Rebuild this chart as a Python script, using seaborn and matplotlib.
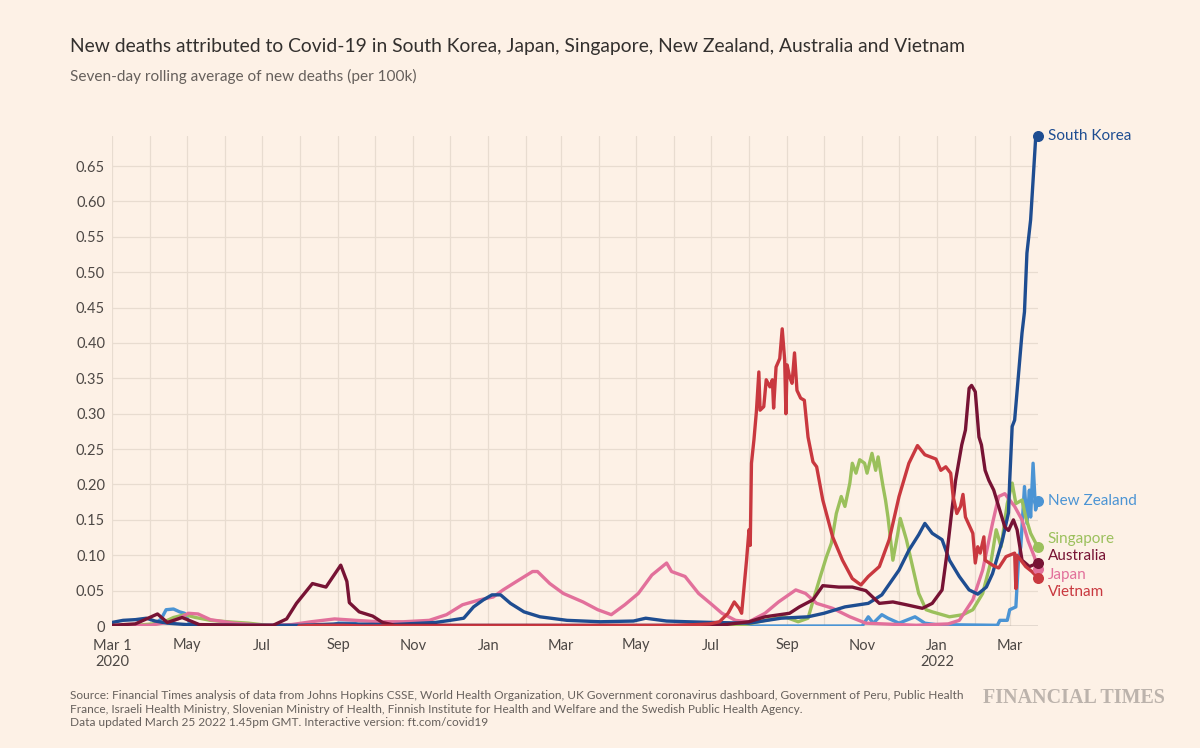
import pandas as pd
import numpy as np
import matplotlib
matplotlib.use("Agg")
import matplotlib.pyplot as plt
import matplotlib.dates as mdates
import matplotlib.ticker as mticker
import seaborn as sns

# Seven-day rolling average of new deaths per 100k

sk_dates = ["2020-03-01", "2020-03-10", "2020-03-20", "2020-03-29", "2020-04-05", "2020-04-15",
            "2020-05-01", "2020-06-15", "2020-08-01", "2020-09-01", "2020-10-15", "2020-11-19",
            "2020-12-01", "2020-12-12", "2020-12-20", "2020-12-28", "2021-01-04", "2021-01-11",
            "2021-01-19", "2021-01-30", "2021-02-12", "2021-03-06", "2021-04-02", "2021-04-29",
            "2021-05-09", "2021-05-26", "2021-06-12", "2021-07-03", "2021-08-01", "2021-08-27",
            "2021-09-18", "2021-10-01", "2021-10-18", "2021-11-06", "2021-11-17", "2021-12-01",
            "2021-12-09", "2021-12-17", "2021-12-22", "2021-12-28", "2022-01-05", "2022-01-11",
            "2022-01-19", "2022-01-27", "2022-02-03", "2022-02-10", "2022-02-15", "2022-02-23",
            "2022-02-28", "2022-03-01", "2022-03-03", "2022-03-05", "2022-03-11", "2022-03-13",
            "2022-03-15", "2022-03-18", "2022-03-20", "2022-03-22", "2022-03-24"]
sk_vals = [0.005, 0.008, 0.009, 0.011, 0.007, 0.004,
           0.002, 0.001, 0.001, 0.003, 0.002, 0.005,
           0.008, 0.011, 0.027, 0.037, 0.044, 0.044,
           0.032, 0.020, 0.013, 0.008, 0.006, 0.007,
           0.011, 0.007, 0.006, 0.005, 0.004, 0.011,
           0.013, 0.018, 0.027, 0.032, 0.044, 0.079,
           0.107, 0.129, 0.145, 0.131, 0.122, 0.093,
           0.070, 0.051, 0.045, 0.055, 0.074, 0.121,
           0.160, 0.206, 0.282, 0.291, 0.414, 0.444,
           0.527, 0.574, 0.630, 0.687, 0.693]

jp_dates = ["2020-03-01", "2020-04-01", "2020-04-18", "2020-04-26", "2020-05-02", "2020-05-10",
            "2020-05-20", "2020-06-08", "2020-07-01", "2020-07-25", "2020-08-10", "2020-08-29",
            "2020-09-15", "2020-10-04", "2020-10-24", "2020-11-14", "2020-11-28", "2020-12-11",
            "2020-12-25", "2021-01-05", "2021-01-13", "2021-01-24", "2021-02-06", "2021-02-10",
            "2021-02-20", "2021-03-03", "2021-03-19", "2021-03-31", "2021-04-11", "2021-04-22",
            "2021-05-03", "2021-05-14", "2021-05-26", "2021-05-30", "2021-06-10", "2021-06-21",
            "2021-07-02", "2021-07-10", "2021-07-21", "2021-08-01", "2021-08-14", "2021-08-25",
            "2021-09-08", "2021-09-16", "2021-09-25", "2021-10-08", "2021-10-22", "2021-11-04",
            "2021-12-15", "2022-01-10", "2022-01-19", "2022-01-30", "2022-02-07", "2022-02-15",
            "2022-02-20", "2022-02-25", "2022-03-05", "2022-03-11", "2022-03-16", "2022-03-21",
            "2022-03-24"]
jp_vals = [0.0005, 0.001, 0.006, 0.012, 0.018, 0.017,
           0.009, 0.004, 0.001, 0.002, 0.006, 0.010,
           0.008, 0.006, 0.006, 0.008, 0.016, 0.030,
           0.037, 0.041, 0.051, 0.063, 0.077, 0.077,
           0.060, 0.046, 0.034, 0.023, 0.016, 0.030,
           0.046, 0.072, 0.089, 0.077, 0.070, 0.046,
           0.030, 0.018, 0.008, 0.006, 0.018, 0.034,
           0.051, 0.046, 0.032, 0.025, 0.013, 0.004,
           0.001, 0.003, 0.008, 0.037, 0.079, 0.145,
           0.183, 0.187, 0.169, 0.150, 0.120, 0.098,
           0.081]

sg_dates = ["2020-03-21", "2020-04-10", "2020-04-20", "2020-04-29", "2020-05-08", "2020-05-20",
            "2020-06-03", "2020-06-20", "2020-07-10", "2021-07-20", "2021-08-01", "2021-08-14",
            "2021-08-30", "2021-09-10", "2021-09-18", "2021-09-23", "2021-09-28", "2021-10-03",
            "2021-10-07", "2021-10-11", "2021-10-15", "2021-10-18", "2021-10-22", "2021-10-24",
            "2021-10-27", "2021-10-30", "2021-11-03", "2021-11-05", "2021-11-09", "2021-11-12",
            "2021-11-14", "2021-11-18", "2021-11-20", "2021-11-22", "2021-11-26", "2021-11-30",
            "2021-12-02", "2021-12-07", "2021-12-12", "2021-12-17", "2021-12-23", "2021-12-28",
            "2022-01-11", "2022-01-22", "2022-01-30", "2022-02-07", "2022-02-14", "2022-02-18",
            "2022-02-22", "2022-02-27", "2022-03-03", "2022-03-06", "2022-03-11", "2022-03-14",
            "2022-03-18", "2022-03-24"]
sg_vals = [0.001, 0.004, 0.012, 0.016, 0.012, 0.008,
           0.006, 0.004, 0.0, 0.0, 0.003, 0.008,
           0.013, 0.006, 0.011, 0.041, 0.070, 0.098,
           0.117, 0.159, 0.183, 0.169, 0.202, 0.230,
           0.216, 0.235, 0.230, 0.216, 0.244, 0.220,
           0.239, 0.197, 0.178, 0.154, 0.093, 0.131,
           0.152, 0.122, 0.084, 0.046, 0.023, 0.020,
           0.013, 0.016, 0.023, 0.046, 0.093, 0.136,
           0.112, 0.173, 0.202, 0.173, 0.178, 0.154,
           0.131, 0.111]

nz_dates = ["2020-03-29", "2020-04-05", "2020-04-10", "2020-04-14", "2020-04-20", "2020-04-25",
            "2020-04-29", "2020-05-03", "2020-05-12", "2020-05-25", "2020-08-25", "2020-09-01",
            "2020-09-14", "2020-09-20", "2021-11-01", "2021-11-06", "2021-11-10", "2021-11-17",
            "2021-11-22", "2021-12-01", "2021-12-14", "2021-12-22", "2021-12-31", "2022-02-19",
            "2022-02-21", "2022-02-27", "2022-03-01", "2022-03-06", "2022-03-08", "2022-03-10",
            "2022-03-13", "2022-03-15", "2022-03-17", "2022-03-18", "2022-03-20", "2022-03-22",
            "2022-03-24"]
nz_vals = [0.0, 0.003, 0.010, 0.023, 0.024, 0.020,
           0.018, 0.005, 0.001, 0.0, 0.0, 0.004,
           0.004, 0.0, 0.0, 0.013, 0.004, 0.016,
           0.011, 0.004, 0.013, 0.004, 0.002, 0.001,
           0.008, 0.008, 0.023, 0.027, 0.089, 0.112,
           0.197, 0.145, 0.192, 0.154, 0.230, 0.164,
           0.177]

au_dates = ["2020-03-01", "2020-03-20", "2020-04-07", "2020-04-15", "2020-04-27", "2020-05-11",
            "2020-06-15", "2020-07-10", "2020-07-21", "2020-07-29", "2020-08-11", "2020-08-22",
            "2020-08-29", "2020-09-03", "2020-09-08", "2020-09-10", "2020-09-18", "2020-09-29",
            "2020-10-07", "2020-10-17", "2021-07-08", "2021-08-01", "2021-08-14", "2021-09-03",
            "2021-09-11", "2021-09-22", "2021-09-30", "2021-10-13", "2021-10-24", "2021-11-04",
            "2021-11-15", "2021-11-26", "2021-12-07", "2021-12-20", "2021-12-28", "2022-01-05",
            "2022-01-09", "2022-01-13", "2022-01-16", "2022-01-21", "2022-01-24", "2022-01-27",
            "2022-01-29", "2022-02-01", "2022-02-04", "2022-02-06", "2022-02-09", "2022-02-12",
            "2022-02-16", "2022-02-20", "2022-02-25", "2022-02-28", "2022-03-04", "2022-03-07",
            "2022-03-11", "2022-03-17", "2022-03-24"]
au_vals = [0.001, 0.003, 0.017, 0.005, 0.012, 0.002,
           0.001, 0.001, 0.010, 0.032, 0.060, 0.055,
           0.073, 0.086, 0.063, 0.033, 0.020, 0.014,
           0.005, 0.001, 0.001, 0.006, 0.013, 0.018,
           0.027, 0.037, 0.057, 0.055, 0.055, 0.050,
           0.032, 0.034, 0.030, 0.025, 0.032, 0.051,
           0.103, 0.164, 0.206, 0.256, 0.277, 0.336,
           0.340, 0.331, 0.267, 0.256, 0.220, 0.206,
           0.192, 0.169, 0.140, 0.135, 0.150, 0.136,
           0.093, 0.084, 0.089]

vn_dates = ["2020-07-31", "2020-08-15", "2020-09-05", "2020-09-20", "2021-06-01", "2021-06-30",
            "2021-07-08", "2021-07-15", "2021-07-20", "2021-07-24", "2021-07-26", "2021-07-30",
            "2021-08-01", "2021-08-02", "2021-08-03", "2021-08-05", "2021-08-07", "2021-08-09",
            "2021-08-10", "2021-08-13", "2021-08-15", "2021-08-18", "2021-08-20", "2021-08-21",
            "2021-08-23", "2021-08-26", "2021-08-28", "2021-08-30", "2021-08-31", "2021-09-01",
            "2021-09-03", "2021-09-05", "2021-09-07", "2021-09-09", "2021-09-12", "2021-09-15",
            "2021-09-18", "2021-09-22", "2021-09-25", "2021-09-30", "2021-10-08", "2021-10-16",
            "2021-10-24", "2021-10-31", "2021-11-06", "2021-11-15", "2021-11-23", "2021-12-01",
            "2021-12-09", "2021-12-16", "2021-12-22", "2021-12-31", "2022-01-04", "2022-01-08",
            "2022-01-12", "2022-01-14", "2022-01-17", "2022-01-20", "2022-01-22", "2022-01-24",
            "2022-01-30", "2022-02-01", "2022-02-03", "2022-02-05", "2022-02-08", "2022-02-09",
            "2022-02-15", "2022-02-20", "2022-02-26", "2022-03-05", "2022-03-06", "2022-03-07",
            "2022-03-14", "2022-03-19", "2022-03-24"]
vn_vals = [0.0, 0.001, 0.001, 0.0, 0.0005, 0.003,
           0.006, 0.018, 0.034, 0.025, 0.018, 0.093,
           0.136, 0.114, 0.230, 0.263, 0.303, 0.359,
           0.305, 0.310, 0.348, 0.338, 0.348, 0.308,
           0.366, 0.378, 0.420, 0.376, 0.300, 0.369,
           0.352, 0.343, 0.386, 0.333, 0.322, 0.319,
           0.267, 0.232, 0.225, 0.178, 0.126, 0.093,
           0.067, 0.058, 0.070, 0.084, 0.122, 0.183,
           0.230, 0.255, 0.242, 0.236, 0.220, 0.225,
           0.216, 0.183, 0.159, 0.169, 0.186, 0.154,
           0.131, 0.089, 0.112, 0.103, 0.126, 0.093,
           0.086, 0.082, 0.098, 0.103, 0.053, 0.100,
           0.084, 0.077, 0.068]

# drawing order (last on top) and colours
countries = ["New Zealand", "Singapore", "Japan", "South Korea", "Australia", "Vietnam"]
colors = {
    "South Korea": "#1e4d91",
    "New Zealand": "#4b94d4",
    "Singapore": "#9bc05c",
    "Australia": "#771334",
    "Japan": "#e2709b",
    "Vietnam": "#c9383f",
}
# where the end labels sit (nudged apart so they do not collide)
label_y = {
    "South Korea": 0.6925,
    "New Zealand": 0.177,
    "Singapore": 0.123,
    "Australia": 0.099,
    "Japan": 0.072,
    "Vietnam": 0.048,
}

raw = {
    "South Korea": (sk_dates, sk_vals),
    "Japan": (jp_dates, jp_vals),
    "Singapore": (sg_dates, sg_vals),
    "New Zealand": (nz_dates, nz_vals),
    "Australia": (au_dates, au_vals),
    "Vietnam": (vn_dates, vn_vals),
}
frames = []
for name, (d, v) in raw.items():
    frames.append(pd.DataFrame({"date": pd.to_datetime(d), "value": v, "country": name}))
df = pd.concat(frames, ignore_index=True)

BG = "#fdf1e6"
GRID = "#e8dcd0"
TXT = "#33302e"
GREY = "#66605c"

sns.set_theme(style="white")
plt.rcParams["font.family"] = ["Lato", "DejaVu Sans"]

fig = plt.figure(figsize=(12, 7.48), dpi=100, facecolor=BG)
ax = fig.add_axes([112 / 1200, 1 - 626 / 748, 926 / 1200, 490 / 748])
ax.set_facecolor(BG)

sns.lineplot(data=df, x="date", y="value", hue="country", hue_order=countries,
             palette=colors, linewidth=2.4, legend=False, estimator=None, ax=ax)

x0 = pd.Timestamp("2020-03-01")
x1 = pd.Timestamp("2022-03-24")
ax.set_xlim(x0, x1)
ax.set_ylim(0, 0.6925)

# end dots and labels
for name in countries:
    sub = df[df["country"] == name]
    last = sub.iloc[-1]
    ax.scatter([last["date"]], [last["value"]], s=48, color=colors[name],
               zorder=10, clip_on=False)
    ax.annotate(name, xy=(last["date"], label_y[name]), xytext=(7, 0),
                textcoords="offset points", va="center", ha="left",
                fontsize=11, color=colors[name], annotation_clip=False)

# axes styling
ax.xaxis.set_major_locator(mdates.MonthLocator(bymonth=[1, 3, 5, 7, 9, 11]))
ax.xaxis.set_minor_locator(mdates.MonthLocator())


def fmt_date(x, pos=None):
    d = mdates.num2date(x)
    if d.year == 2020 and d.month == 3:
        return "Mar 1\n2020"
    if d.year == 2022 and d.month == 1:
        return "Jan\n2022"
    return d.strftime("%b")


ax.xaxis.set_major_formatter(mticker.FuncFormatter(fmt_date))
yt = np.arange(0, 0.651, 0.05)
ax.set_yticks(yt)
ax.set_yticklabels(["0" if v == 0 else f"{v:.2f}" for v in yt])

ax.grid(True, which="both", axis="x", color=GRID, linewidth=0.9)
ax.grid(True, which="major", axis="y", color=GRID, linewidth=0.9)
ax.set_axisbelow(True)
ax.axhline(0, color="#8a837e", linewidth=1.0, zorder=1.5)
for s in ax.spines.values():
    s.set_visible(False)
ax.tick_params(axis="both", which="both", length=0, labelsize=10.5, labelcolor="#4d4845")
ax.tick_params(axis="x", pad=9)
ax.tick_params(axis="y", pad=5)
ax.set_xlabel("")
ax.set_ylabel("")

# titles and footer
fig.text(70 / 1200, 1 - 52 / 748,
         "New deaths attributed to Covid-19 in South Korea, Japan, Singapore, New Zealand, Australia and Vietnam",
         fontsize=13.9, color=TXT, va="baseline", ha="left")
fig.text(70 / 1200, 1 - 81 / 748, "Seven-day rolling average of new deaths (per 100k)",
         fontsize=11.1, color=GREY, va="baseline", ha="left")
source = ("Source: Financial Times analysis of data from Johns Hopkins CSSE, World Health Organization, "
          "UK Government coronavirus dashboard, Government of Peru, Public Health\n"
          "France, Israeli Health Ministry, Slovenian Ministry of Health, Finnish Institute for Health "
          "and Welfare and the Swedish Public Health Agency.\n"
          "Data updated March 25 2022 1.45pm GMT. Interactive version: ft.com/covid19")
fig.text(70 / 1200, 1 - 690 / 748, source, fontsize=8.55, color=GREY, va="top", ha="left",
         linespacing=1.3)
fig.text(1165 / 1200, 1 - 703 / 748, "FINANCIAL TIMES", fontsize=14.4, color="#bcb3ac",
         family="Liberation Serif", fontweight="bold", va="baseline", ha="right")

fig.savefig("out.png", dpi=100, facecolor=BG)
